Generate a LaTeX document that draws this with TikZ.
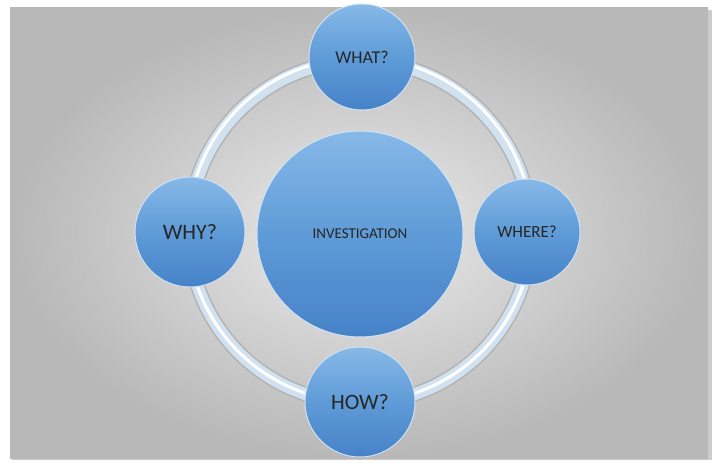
\documentclass[tikz,border=0pt]{standalone}
\usepackage{fontspec}
\setmainfont{Carlito}
\definecolor{ringc}{RGB}{210,225,240}
\definecolor{bdark}{RGB}{70,130,200}
\definecolor{bmid}{RGB}{95,155,215}
\definecolor{blight}{RGB}{135,185,232}
\begin{document}
\begin{tikzpicture}[x=1pt,y=1pt,
  ball/.style={circle, draw=ringc, line width=1pt, top color=blight, bottom color=bdark, middle color=bmid, inner sep=0pt, text=black!85}]
\useasboundingbox (0,0) rectangle (720,466);
\fill[white] (0,0) rectangle (720,466);
\fill[black!20] (12,6) rectangle (712,456);
\shade[inner color=white!92!black, outer color=black!28, shading=radial] (10,8) rectangle (708,458);
\coordinate (c) at (360,234);
\draw[black!30, line width=15pt] (c) circle[radius=171];
\draw[ringc, line width=12pt] (c) circle[radius=171];
\draw[white, line width=3pt] (c) ++(0,2) circle[radius=172];
\node[ball, minimum size=206pt, font=\fontsize{15}{18}\selectfont] (inv) at (360,232) {INVESTIGATION};
\node[ball, minimum size=106pt, font=\fontsize{18}{21}\selectfont] (what) at (362,409) {WHAT?};
\node[ball, minimum size=110pt, font=\fontsize{22}{26}\selectfont] (how) at (360,64) {HOW?};
\node[ball, minimum size=110pt, font=\fontsize{22}{26}\selectfont] (why) at (190,234) {WHY?};
\node[ball, minimum size=106pt, font=\fontsize{17}{20}\selectfont] (where) at (527,234) {WHERE?};
\end{tikzpicture}
\end{document}
